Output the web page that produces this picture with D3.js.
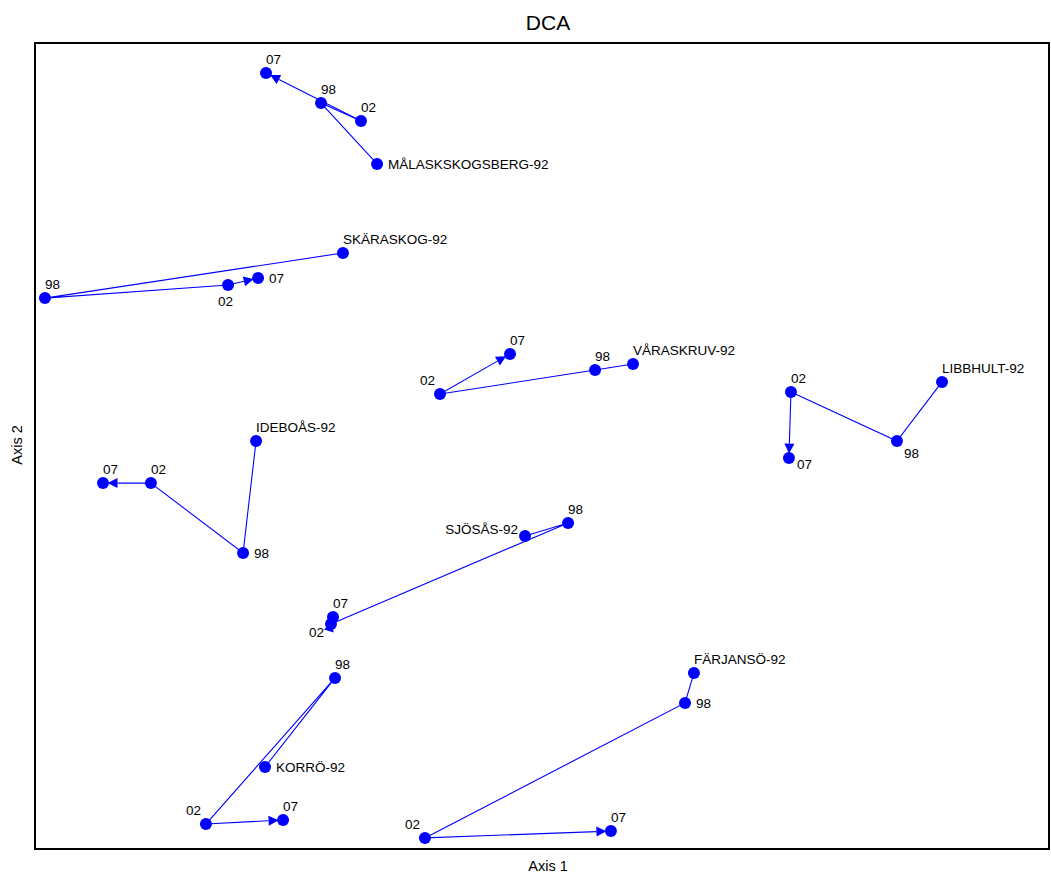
<!DOCTYPE html>
<html>
<head>
<meta charset="utf-8">
<script src="https://cdn.jsdelivr.net/npm/d3@7"></script>
<style>
  body { margin: 0; background: #fff; }
  svg { display: block; font-family: Arial, "Liberation Sans", sans-serif; }
</style>
</head>
<body>
<svg id="chart" width="1051" height="874"></svg>
<script>
// DCA site scores, one trajectory per site: 1992 -> 1998 -> 2002 -> 2007
const sites = ["MÅLASKSKOGSBERG", "SKÄRASKOG", "VÅRASKRUV", "LIBBHULT",
               "IDEBOÅS", "SJÖSÅS", "KORRÖ", "FÄRJANSÖ"];
const years = ["92", "98", "02", "07"];

// Axis 1 scores per site, in year order
const axis1 = [
  [1.685, 1.409, 1.606, 1.138],
  [1.517, 0.049, 0.951, 1.099],
  [2.946, 2.759, 1.995, 2.340],
  [4.468, 4.246, 3.724, 3.714],
  [1.089, 1.025, 0.571, 0.335],
  [2.414, 2.626, 1.458, 1.468],
  [1.133, 1.478, 0.842, 1.222],
  [3.246, 3.202, 1.921, 2.837]
];
// Axis 2 scores per site, in year order
const axis2 = [
  [3.400, 3.702, 3.613, 3.851],
  [2.958, 2.734, 2.799, 2.834],
  [2.407, 2.377, 2.258, 2.457],
  [2.318, 2.025, 2.268, 1.940],
  [2.025, 1.469, 1.816, 1.816],
  [1.553, 1.618, 1.117, 1.151],
  [0.407, 0.849, 0.124, 0.144],
  [0.873, 0.725, 0.055, 0.089]
];

// Where each point label sits relative to its point
const labelSide = [
  ["E", "N", "N", "N"],
  ["N", "N", "S", "E"],
  ["N", "N", "NW", "N"],
  ["N", "SE", "N", "SE2"],
  ["N", "E", "N", "N"],
  ["W", "N", "SW", "N"],
  ["E", "N", "NW", "N"],
  ["N", "E", "NW", "N"]
];
const sideStyle = {
  N:   { dx: 0,   dy: -9, anchor: "start" },
  E:   { dx: 11,  dy: 5,  anchor: "start" },
  S:   { dx: -10, dy: 21, anchor: "start" },
  SE:  { dx: 7,   dy: 17, anchor: "start" },
  SE2: { dx: 8,   dy: 11, anchor: "start" },
  NW:  { dx: -20, dy: -9, anchor: "start" },
  W:   { dx: -7,  dy: -2, anchor: "end" },
  SW:  { dx: -7,  dy: 13, anchor: "end" }
};

const svg = d3.select("#chart");
const frame = { left: 35, top: 43, right: 1049, bottom: 849 };
const blue = "#0000ff";

const x = d3.scaleLinear().domain([0, 5]).range([frame.left, frame.left + 1015]);
const y = d3.scaleLinear().domain([0, 4]).range([frame.bottom, frame.bottom - 806]);

// Plot frame
svg.append("rect")
  .attr("x", frame.left).attr("y", frame.top)
  .attr("width", frame.right - frame.left)
  .attr("height", frame.bottom - frame.top)
  .attr("fill", "none").attr("stroke", "#000").attr("stroke-width", 2);

// Titles
svg.append("text").attr("x", 548).attr("y", 30)
  .attr("text-anchor", "middle").attr("font-size", 21).text("DCA");
svg.append("text").attr("x", 548).attr("y", 871)
  .attr("text-anchor", "middle").attr("font-size", 14.5).text("Axis 1");
svg.append("text").attr("transform", "translate(22,445) rotate(-90)")
  .attr("text-anchor", "middle").attr("font-size", 14.5).text("Axis 2");

const r = 6;
const data = sites.map((s, i) => ({
  site: s,
  pts: years.map((yr, j) => ({
    year: yr, px: x(axis1[i][j]), py: y(axis2[i][j]), side: labelSide[i][j]
  }))
}));

const g = svg.append("g");

data.forEach(d => {
  const p = d.pts;
  // Trajectory 92 -> 98 -> 02 as plain segments
  g.append("path")
    .attr("d", d3.line()([[p[0].px, p[0].py], [p[1].px, p[1].py], [p[2].px, p[2].py]]))
    .attr("fill", "none").attr("stroke", blue).attr("stroke-width", 1.1);

  // Last step 02 -> 07 ends in an arrowhead at the 07 point
  const a = p[2], b = p[3];
  const dx = b.px - a.px, dy = b.py - a.py;
  const len = Math.hypot(dx, dy);
  const ux = dx / len, uy = dy / len;
  const tipX = b.px - ux * (r - 1.5), tipY = b.py - uy * (r - 1.5);
  const head = 10, half = 5;
  const baseX = tipX - ux * head, baseY = tipY - uy * head;
  g.append("line")
    .attr("x1", a.px).attr("y1", a.py).attr("x2", baseX).attr("y2", baseY)
    .attr("stroke", blue).attr("stroke-width", 1.1);
  g.append("path")
    .attr("d", `M${tipX},${tipY}L${baseX - uy * half},${baseY + ux * half}L${baseX + uy * half},${baseY - ux * half}Z`)
    .attr("fill", blue);

  // Points
  g.selectAll(null).data(p).enter().append("circle")
    .attr("cx", q => q.px).attr("cy", q => q.py).attr("r", r)
    .attr("fill", blue);

  // Labels
  g.selectAll(null).data(p).enter().append("text")
    .attr("x", q => q.px + sideStyle[q.side].dx)
    .attr("y", q => q.py + sideStyle[q.side].dy)
    .attr("text-anchor", q => sideStyle[q.side].anchor)
    .attr("font-size", 13.5)
    .attr("fill", "#000")
    .text(q => q.year === "92" ? `${d.site}-92` : q.year);
});
</script>
</body>
</html>
